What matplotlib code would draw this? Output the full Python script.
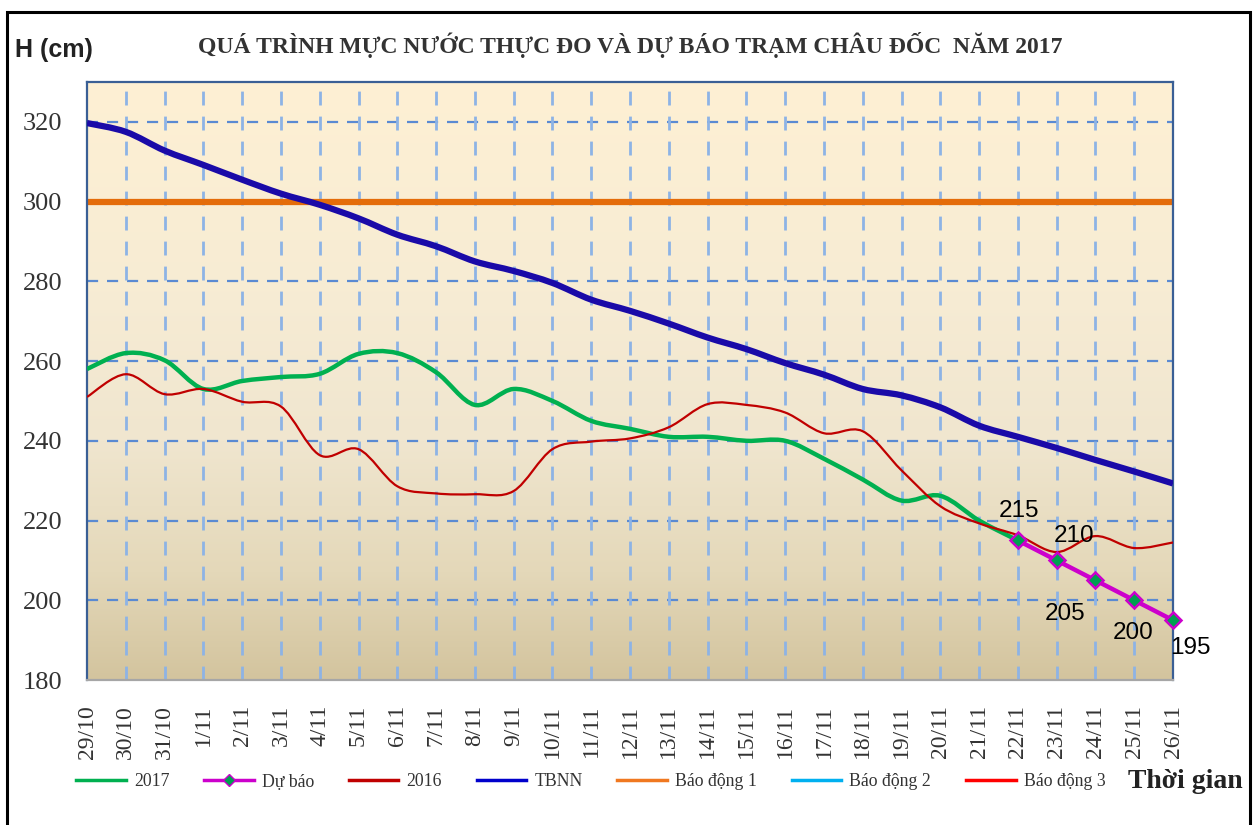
import numpy as np
import matplotlib
matplotlib.use("Agg")
import matplotlib.pyplot as plt
from matplotlib.path import Path
from matplotlib.patches import PathPatch, Rectangle
from matplotlib.lines import Line2D

# ---------------- data ----------------
dates = ["29/10", "30/10", "31/10", "1/11", "2/11", "3/11", "4/11", "5/11", "6/11",
         "7/11", "8/11", "9/11", "10/11", "11/11", "12/11", "13/11", "14/11", "15/11",
         "16/11", "17/11", "18/11", "19/11", "20/11", "21/11", "22/11", "23/11",
         "24/11", "25/11", "26/11"]

h2017 = [258, 262, 260.2, 253, 255, 256, 256.8, 261.8, 262, 257.2, 249, 253, 250,
         245, 243, 241, 241, 240, 240, 235.5, 230.3, 225, 226.2, 220, 215]

forecast_dates = ["22/11", "23/11", "24/11", "25/11", "26/11"]
forecast = [215, 210, 205, 200, 195]

h2016 = [251, 256.7, 251.7, 253, 249.8, 248.6, 236.4, 237.9, 228.6, 226.8, 226.6,
         227.4, 237.9, 239.8, 240.6, 243.4, 249.2, 249, 247.1, 241.9, 242.4, 232.6,
         223.6, 219.3, 216.3, 212.1, 216.1, 213.1, 214.5]

tbnn = [319.7, 317.5, 312.8, 309.2, 305.5, 302, 299.2, 295.8, 291.7, 288.8, 285,
        282.6, 279.6, 275.4, 272.6, 269.4, 265.9, 263, 259.5, 256.6, 253, 251.4,
        248.4, 243.8, 241, 238.2, 235.2, 232.3, 229.3]

bao_dong_1 = 300
bao_dong_2 = 350
bao_dong_3 = 400

y_ticks = [180, 200, 220, 240, 260, 280, 300, 320]

# ---------------- figure ----------------
W, H = 1259, 825
fig = plt.figure(figsize=(W / 100, H / 100), dpi=100)
fig.patch.set_facecolor("white")

ax = fig.add_axes([87 / W, 1 - 680 / H, (1173 - 87) / W, (680 - 82) / H])
n = len(dates)
x = np.arange(n)
ax.set_xlim(0, n - 1)
ax.set_ylim(180, 330)

# gradient background (row 0 = top)
stops = np.array([[254, 240, 211], [247, 236, 212], [240, 230, 207], [228, 216, 185],
                  [211, 196, 158]]) / 255.0
pos = np.array([0.0, 0.35, 0.6, 0.82, 1.0])
t = np.linspace(0, 1, 256)
grad = np.stack([np.interp(t, pos, stops[:, c]) for c in range(3)], axis=1)
ax.imshow(grad[:, None, :], aspect="auto", extent=[0, n - 1, 180, 330],
          origin="upper", zorder=0, interpolation="bilinear")


def smooth_path(xs, ys):
    xs = np.asarray(xs, float)
    ys = np.asarray(ys, float)
    pts = np.column_stack([xs, ys])
    verts = [pts[0]]
    codes = [Path.MOVETO]
    m = len(pts)
    for i in range(m - 1):
        p0 = pts[i - 1] if i > 0 else pts[i]
        p1 = pts[i]
        p2 = pts[i + 1]
        p3 = pts[i + 2] if i + 2 < m else pts[i + 1]
        c1 = p1 + (p2 - p0) / 6.0
        c2 = p2 - (p3 - p1) / 6.0
        verts += [c1, c2, p2]
        codes += [Path.CURVE4, Path.CURVE4, Path.CURVE4]
    return Path(verts, codes)


# grid
for yv in y_ticks[1:]:
    ax.axhline(yv, color="#5A8AD2", lw=1.6, ls=(0, (5, 4)), zorder=1)
for xi in x[1:-1]:
    ax.axvline(xi, color="#8DB3E5", lw=2.0, ls=(0, (5, 4)), zorder=1)

# lines
ax.axhline(bao_dong_1, color="#E46C0A", lw=4.5, zorder=2)
ax.axhline(bao_dong_2, color="#00B0F0", lw=2, zorder=2)
ax.axhline(bao_dong_3, color="#FF0000", lw=2, zorder=2)

ax.add_patch(PathPatch(smooth_path(x, tbnn), fill=False, ec="#1A0AA8", lw=4.5,
                       zorder=3, capstyle="butt"))
ax.add_patch(PathPatch(smooth_path(x[:len(h2017)], h2017), fill=False, ec="#00B050",
                       lw=3.2, zorder=4))
ax.add_patch(PathPatch(smooth_path(x, h2016), fill=False, ec="#C00000", lw=1.6, zorder=5))

fx = [dates.index(d) for d in forecast_dates]
ax.plot(fx, forecast, color="#CC00CC", lw=3.2, marker="D", ms=8,
        mfc="#00A050", mec="#CC00CC", mew=1.8, zorder=6, clip_on=False)

offsets = [(1, 13, "center", "bottom"), (-2, 10, "left", "bottom"),
           (-7, -16, "right", "top"), (-1, -16, "center", "top"),
           (-2, -12, "left", "top")]
for xi, v, (dx, dy, ha, va) in zip(fx, forecast, offsets):
    ax.annotate(str(v), (xi, v), xytext=(dx, dy), textcoords="offset points",
                ha=ha, va=va, fontsize=17.5, family="Liberation Sans", color="black",
                zorder=7, annotation_clip=False)

# axes styling
for s in ["left", "top", "right"]:
    ax.spines[s].set_color("#3A5F95")
    ax.spines[s].set_linewidth(1.6)
ax.spines["bottom"].set_color("#A6A6A6")
ax.spines["bottom"].set_linewidth(1.6)

ax.set_yticks(y_ticks)
ax.set_yticklabels([str(v) for v in y_ticks], family="Liberation Serif",
                   fontsize=19, color="#333333")
ax.set_xticks(x)
ax.set_xticklabels(dates, rotation=90, family="Liberation Serif", fontsize=17,
                   color="#333333", va="top")
ax.tick_params(axis="y", length=0, pad=18)
ax.tick_params(axis="x", length=0, pad=18)

# titles
fig.text(630 / W, 1 - 45 / H,
         "QUÁ TRÌNH MỰC NƯỚC THỰC ĐO VÀ DỰ BÁO TRẠM CHÂU ĐỐC  NĂM 2017",
         ha="center", va="center", family="Liberation Serif", fontweight="bold",
         fontsize=17, color="#333333")
fig.text(15 / W, 1 - 50 / H, "H (cm)", ha="left", va="center",
         family="Liberation Sans", fontweight="bold", fontsize=18, color="#222222")
fig.text(1243 / W, 1 - 782 / H, "Thời gian", ha="right", va="center",
         family="Liberation Serif", fontweight="bold", fontsize=20, color="#222222")

# legend
handles = [
    Line2D([], [], color="#00B050", lw=2.5),
    Line2D([], [], color="#CC00CC", lw=2.5, marker="D", ms=6, mfc="#00A050", mec="#CC00CC"),
    Line2D([], [], color="#C00000", lw=2.5),
    Line2D([], [], color="#0000CC", lw=2.5),
    Line2D([], [], color="#F07820", lw=2.5),
    Line2D([], [], color="#00B0F0", lw=2.5),
    Line2D([], [], color="#FF0000", lw=2.5),
]
labels = ["2017", "Dự báo", "2016", "TBNN", "Báo động 1", "Báo động 2", "Báo động 3"]
leg = fig.legend(handles, labels, loc="center left", bbox_to_anchor=(60 / W, 1 - 782 / H),
                 ncol=7, frameon=False, handlelength=2.8, columnspacing=1.95,
                 handletextpad=0.45, prop={"family": "Liberation Serif", "size": 12.8})
for txt in leg.get_texts():
    txt.set_color("#333333")

# outer frame
fig.add_artist(Rectangle((7 / W, -0.05), (1250 - 7) / W, 1 - 12 / H + 0.05,
                         transform=fig.transFigure, fill=False, ec="black", lw=2.2))

fig.savefig("out.png", dpi=100)
